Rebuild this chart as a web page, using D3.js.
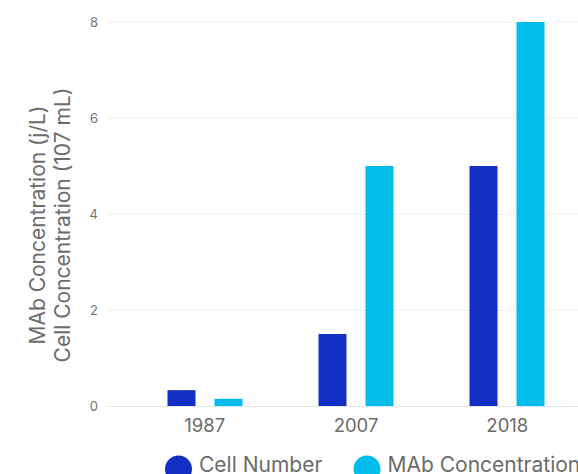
<!DOCTYPE html>
<html>
<head>
<meta charset="utf-8">
<script src="https://cdn.jsdelivr.net/npm/d3@7"></script>
<style>
  body { margin: 0; background: #fff; }
  svg { display: block; font-family: Inter, "Noto Sans", sans-serif; }
</style>
</head>
<body>
<div class="svg-container"></div>
<script>
// data
const years = ['1987', '2007', '2018'];
const seriesNames = ['Cell Number', 'MAb Concentration'];
const cellNumber = [0.33, 1.5, 5];
const mabConc = [0.15, 5, 8];
const yTicks = [0, 2, 4, 6, 8];
const colors = ['#1231c4', '#00bdeb'];

const width = 578, height = 474;

const svg = d3.select('.svg-container')
    .append('svg')
    .attr('width', width)
    .attr('height', height);

// scales
const x = d3.scaleBand()
    .domain(years)
    .range([129, 583]);

const xInner = d3.scalePoint()
    .domain(seriesNames)
    .range([-23.5, 23.5]);

const y = d3.scaleLinear()
    .domain([0, 8])
    .range([406, 22]);

// gridlines
svg.append('g')
    .selectAll('line')
    .data(yTicks)
    .join('line')
    .attr('x1', 108)
    .attr('x2', width)
    .attr('y1', d => Math.round(y(d)) + 0.5)
    .attr('y2', d => Math.round(y(d)) + 0.5)
    .attr('stroke', d => d === 0 ? '#e3e3e3' : '#efefef')
    .attr('stroke-width', 1);

// y axis
const yAxis = d3.axisLeft(y).tickValues(yTicks).tickSize(0).tickPadding(0);
svg.append('g')
    .attr('transform', 'translate(98,0)')
    .call(yAxis)
    .call(g => g.select('.domain').remove())
    .call(g => g.selectAll('text')
        .attr('fill', '#737373')
        .attr('font-size', 13)
        .attr('font-family', 'Inter, sans-serif'));

// x axis
const xAxis = d3.axisBottom(x).tickSize(0).tickPadding(0);
svg.append('g')
    .attr('transform', 'translate(0,419)')
    .call(xAxis)
    .call(g => g.select('.domain').remove())
    .call(g => g.selectAll('text')
        .attr('fill', '#6b6b6b')
        .attr('font-size', 18.5)
        .attr('font-family', 'Inter, sans-serif'));

// bars
const rows = years.map((yr, i) => ({ year: yr, values: [cellNumber[i], mabConc[i]] }));
const barW = 28;

const groups = svg.selectAll('.grp')
    .data(rows)
    .join('g')
    .attr('class', 'grp')
    .attr('transform', d => `translate(${Math.round(x(d.year) + x.bandwidth() / 2)},0)`);

groups.selectAll('rect')
    .data(d => d.values.map((v, j) => ({ name: seriesNames[j], value: v, j })))
    .join('rect')
    .attr('x', d => xInner(d.name) - barW / 2)
    .attr('y', d => y(d.value))
    .attr('width', barW)
    .attr('height', d => y(0) - y(d.value))
    .attr('fill', d => colors[d.j]);

// y axis title (two lines)
const titleG = svg.append('g')
    .attr('transform', 'translate(50,225) rotate(-90)');
titleG.append('text')
    .attr('text-anchor', 'middle')
    .attr('y', -5)
    .attr('fill', '#6b6b6b')
    .attr('font-size', 21)
    .text('MAb Concentration (j/L)');
titleG.append('text')
    .attr('text-anchor', 'middle')
    .attr('y', 20)
    .attr('fill', '#6b6b6b')
    .attr('font-size', 21)
    .text('Cell Concentration (107 mL)');

// legend
const legendX = [178.5, 367];
const legend = svg.selectAll('.legend')
    .data(seriesNames)
    .join('g')
    .attr('class', 'legend')
    .attr('transform', (d, i) => `translate(${legendX[i]},469)`);

legend.append('circle')
    .attr('r', 13.5)
    .attr('fill', (d, i) => colors[i]);

legend.append('text')
    .attr('x', 20.5)
    .attr('y', 3)
    .attr('fill', '#6b6b6b')
    .attr('font-size', 21)
    .text(d => d);
</script>
</body>
</html>
